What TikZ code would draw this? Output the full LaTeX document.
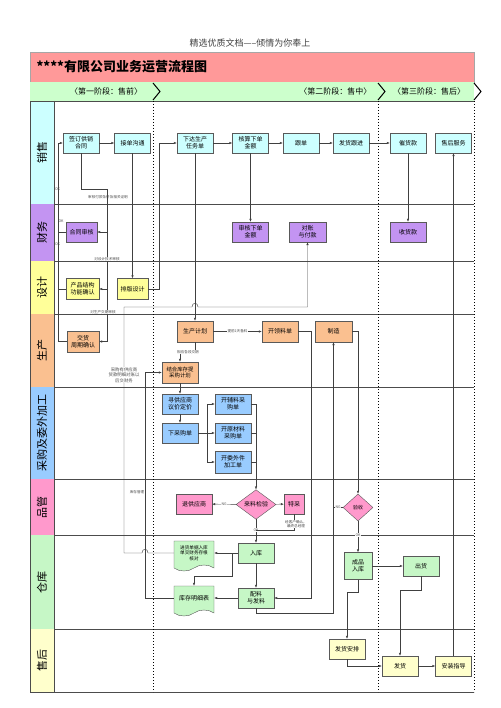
\documentclass[tikz,border=0pt]{standalone}
\usepackage{fontspec}
\setmainfont{Noto Sans CJK SC}
\usetikzlibrary{shapes.geometric,shapes.symbols,arrows.meta}

\definecolor{titlered}{HTML}{FF9999}
\definecolor{stagegreen}{HTML}{CCFFCC}
\definecolor{salecyan}{HTML}{CCFFFF}
\definecolor{finpurple}{HTML}{C394F2}
\definecolor{desyellow}{HTML}{FFFF99}
\definecolor{prodorange}{HTML}{FAC090}
\definecolor{buyblue}{HTML}{99CCFF}
\definecolor{qcpink}{HTML}{FF99CC}
\definecolor{storegreen}{HTML}{C6F7C6}
\definecolor{aftyellow}{HTML}{FFFFCC}

\begin{document}
\begin{tikzpicture}[x=1pt,y=-1pt,
    box/.style={rectangle,draw=black!65,minimum width=36,minimum height=20,inner sep=1,align=center,font=\fontsize{6}{7.2}\selectfont},
    docbox/.style={tape,tape bend top=none,tape bend height=6,draw=black!65,fill=storegreen,minimum width=40,inner sep=1,align=center,font=\fontsize{4.6}{5.6}\selectfont},
    check/.style={diamond,draw=black!65,fill=qcpink,inner sep=0,font=\fontsize{6}{7}\selectfont},
    arr/.style={draw=black!75,line width=0.4pt,-{Latex[length=3pt,width=2.4pt]}},
    line/.style={draw=black!75,line width=0.4pt},
    note/.style={font=\fontsize{3.6}{4.4}\selectfont,text=black!70,inner sep=0.5,align=center},
    lanetext/.style={rotate=90,font=\fontsize{11}{12}\selectfont}
  ]
  \useasboundingbox (0,0) rectangle (500,708);

  % header and title
  \node[font=\fontsize{9}{10}\selectfont,text=black!75] (head) at (250,43) {精选优质文档-----倾情为你奉上};
  \draw[black!35,fill=titlered] (30,52) rectangle (474,82);
  \node[anchor=west,font=\fontsize{13}{14}\bfseries] (title) at (33,67) {****有限公司业务运营流程图};

  % stages
  \fill[stagegreen] (30,82) rectangle (474,101);
  \node[font=\fontsize{8}{9}\selectfont] (st1) at (106,91.5) {〈第一阶段：售前〉};
  \node[anchor=east,font=\fontsize{8}{9}\selectfont] (st2) at (375,91.5) {〈第二阶段：售中〉};
  \node[font=\fontsize{8}{9}\selectfont] (st3) at (429,91.5) {〈第三阶段：售后〉};
  \foreach \x in {153,378,474}
    \draw[line width=1pt] (\x,83) -- (\x+7,91.5) -- (\x,100);

  % lanes
  \foreach \t/\b/\c/\l in {101/204/salecyan/销售, 204/261/finpurple/财务, 261/314/desyellow/设计,
      314/387/prodorange/生产, 387/479/buyblue/采购及委外加工, 479/535/qcpink/品管,
      535/629/storegreen/仓库, 629/692/aftyellow/售后} {
    \fill[\c] (30,\t) rectangle (54,\b);
    \node[lanetext] at (42,{(\t+\b)/2}) {\l};
    \draw[black!70,line width=0.6pt] (30,\b) -- (474,\b);
  }
  \draw[black!70,line width=0.6pt] (30,101) -- (474,101);
  \draw[black!70,line width=0.6pt] (30,101) -- (30,692);
  \draw[black!70,line width=0.6pt] (54,101) -- (54,692);
  \foreach \x in {153,378,474}
    \draw[line width=1pt,dotted] (\x,101) -- (\x,692);

  % sales
  \node[box,fill=salecyan] (contract) at (81,143) {签订供销\\合同};
  \node[box,fill=salecyan] (talk) at (132.5,143) {接单沟通};
  \node[box,fill=salecyan] (task) at (195,143) {下达生产\\任务单};
  \node[box,fill=salecyan] (price) at (250.5,143) {核算下单\\金额};
  \node[box,fill=salecyan] (follow) at (301,143) {跟单};
  \node[box,fill=salecyan] (ship) at (351,143) {发货跟进};
  \node[box,fill=salecyan] (urge) at (408,143) {催货款};
  \node[box,fill=salecyan] (service) at (453.5,143) {售后服务};

  % finance
  \node[box,fill=finpurple,minimum width=31] (audit) at (81.5,232) {合同审核};
  \node[box,fill=finpurple] (priceok) at (250.5,232) {审核下单\\金额};
  \node[box,fill=finpurple,minimum width=37] (pay) at (307.5,232) {对账\\与付款};
  \node[box,fill=finpurple] (cash) at (408,232) {收货款};

  % design
  \node[box,fill=desyellow,minimum width=33,minimum height=21] (struct) at (82.5,289) {产品结构\\功能确认};
  \node[box,fill=desyellow,minimum width=31,minimum height=21] (layout) at (132.5,289) {排版设计};

  % production
  \node[box,fill=prodorange,minimum width=32,minimum height=21] (period) at (83,341.5) {交货\\周期确认};
  \node[box,fill=prodorange,minimum height=21] (plan) at (195,331.5) {生产计划};
  \node[box,fill=prodorange,minimum height=21] (pick) at (280,331.5) {开领料单};
  \node[box,fill=prodorange,minimum width=37,minimum height=21] (make) at (333.5,331.5) {制造};
  \node[box,fill=prodorange,minimum height=21,font=\fontsize{5.4}{6.6}\selectfont] (stock) at (180,372.5) {结合库存提\\采购计划};

  % purchasing
  \node[box,fill=buyblue] (supplier) at (180,404) {寻供应商\\议价定价};
  \node[box,fill=buyblue] (order) at (180,433) {下采购单};
  \node[box,fill=buyblue] (aux) at (233,404) {开辅料采\\购单};
  \node[box,fill=buyblue] (raw) at (233,433) {开原材料\\采购单};
  \node[box,fill=buyblue,minimum height=22] (outs) at (233,462) {开委外件\\加工单};

  % quality
  \node[box,fill=qcpink] (back) at (194,504) {退供应商};
  \node[check,minimum width=40,minimum height=27] (inspect) at (256,504.5) {来料检验};
  \node[box,fill=qcpink,minimum width=20] (special) at (294,504) {特采};
  \node[check,minimum width=30,minimum height=27,font=\fontsize{5}{6}\selectfont] (accept) at (358,507.5) {验收};

  % warehouse
  \node[docbox,minimum height=30] (bill) at (194,553) {进货单据入库\\单交财务存根\\核对};
  \node[docbox,minimum height=30,font=\fontsize{6}{7}\selectfont] (detail) at (194,598) {库存明细表};
  \node[box,fill=storegreen] (instore) at (256,553) {入库};
  \node[box,fill=storegreen] (issue) at (256,598) {配料\\与发料};
  \node[box,fill=storegreen,minimum width=28,minimum height=27] (product) at (358,566) {成品\\入库};
  \node[box,fill=storegreen] (out) at (421,566) {出货};

  % after sales
  \node[box,fill=aftyellow] (arrange) at (347,649) {发货安排};
  \node[box,fill=aftyellow] (deliver) at (400,666) {发货};
  \node[box,fill=aftyellow] (install) at (453.5,666) {安装指导};

  % sales flow
  \draw[arr] (contract) -- (talk);
  \draw[arr] (task) -- (price);
  \draw[arr] (price) -- (follow);
  \draw[arr] (follow) -- (ship);
  \draw[arr] (ship) -- (urge);
  \draw[arr] (urge) -- (cash);
  \draw[arr] (price) -- (priceok);
  \draw[arr] (talk) -- (layout);
  \draw[arr] (layout.east) -- (159,289) -- (159,143) -- (task.west);
  \draw[arr] (task) -- (plan);
  \draw[arr] (install) -- (service);

  % review loop
  \draw[arr] (period.west) -- (58,341.5) -- (58,143) -- (contract.west);
  \draw[line] (audit.west) -- (58,232);
  \draw[line] (struct.west) -- (58,289);
  \draw[line] (contract.south) -- (81,189) -- (107,189) -- (107,341.5);
  \draw[arr] (107,232) -- (audit.east);
  \draw[arr] (107,289) -- (struct.east);
  \draw[arr] (107,341.5) -- (period.east);
  \node[note] at (57.5,189) {OK};
  \node[note] at (61,221) {OK};
  \node[note] at (57.5,244) {OK};
  \node[note] at (108,197) {审核付款条件及相关证明};
  \node[note,fill=white] at (107,259) {对设计技术审核};
  \node[note,fill=white] at (103,312) {对生产交期审核};

  % finance and stock returns
  \draw[arr] (bill.west) -- (148,553) .. controls (148,548) and (142,548) .. (142,553) -- (124,553)
    -- (124,307) -- (192,307) .. controls (192,302) and (198,302) .. (198,307) -- (307.5,307) -- (pay.south);
  \node[note,fill=white,font=\fontsize{4.4}{5.6}\selectfont] at (124,375) {采购有供应商\\货款明细对账以\\后交财务};
  \draw[arr] (detail.west) -- (145,598) -- (145,372.5) -- (stock.west);
  \node[note] at (137,492) {库存管理};

  % production flow
  \draw[arr] (plan) -- (pick) node[midway,note,fill=white] {提前1天备料};
  \draw[arr] (plan.south) |- (180,352) -- (stock.north);
  \node[note,fill=white] at (188,352) {相应各段交期};
  \draw[arr] (stock) -- (supplier);
  \draw[arr] (supplier) -- (order);
  \draw[arr] (order.east) -- (207,433) |- (aux.west);
  \draw[arr] (207,433) |- (outs.west);
  \draw[arr] (order) -- (raw);
  \draw[line] (aux.east) -- (256,404);
  \draw[line] (raw.east) -- (256,433);
  \draw[line] (outs.east) -- (256,462);
  \draw[arr] (256,404) -- (inspect.north);

  % inspection
  \draw[arr] (inspect) -- (back) node[midway,note,fill=white] {NG};
  \draw[arr] (inspect) -- (special);
  \draw[arr] (inspect) -- (instore);
  \node[note,fill=white] at (256,530) {OK};
  \draw[line] (special.south) |- (256,530);
  \node[note,fill=white] at (296,524) {经客户确认，\\最终总经理};

  % warehouse flow
  \draw[arr] (instore.west) -- (bill.east);
  \draw[arr] (232,553) |- (194,576) -- (detail.north);
  \draw[arr] (instore) -- (issue);
  \draw[arr] (issue.west) -- (detail.east);
  \draw[arr] (pick.east) -| (311,598) -- (issue.east);
  \draw[arr] (issue.south) |- (333.5,613) -- (make.south);
  \draw[arr] (make.east) -| (accept.north);
  \draw[line] (accept.west) -- (333.5,507.5) node[midway,note,fill=white] {NG};
  \draw[arr] (accept) -- (product);
  \node[note,fill=white] at (358,535) {OK};
  \draw[arr] (product) -- (out);
  \draw[arr] (product.south) |- (347,592) -- (arrange.north);
  \draw[arr] (arrange.south) |- (deliver.west);
  \draw[arr] (out.south) |- (400,590) -- (deliver.north);
  \draw[arr] (deliver) -- (install);
\end{tikzpicture}
\end{document}
